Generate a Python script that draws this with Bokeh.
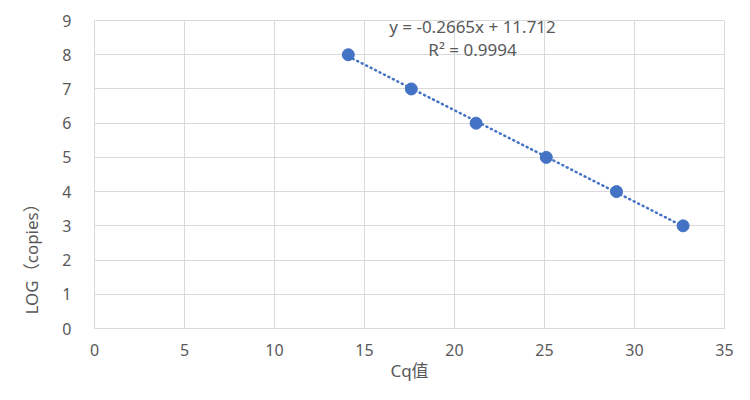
import numpy as np
from bokeh.plotting import figure
from bokeh.models import Label, FixedTicker, Range1d, Title
from bokeh.core.properties import value
from bokeh.embed import file_html
from bokeh.resources import INLINE

# data
cq_values = [14.1, 17.6, 21.2, 25.1, 29.0, 32.7]
log_copies = [8, 7, 6, 5, 4, 3]
x_ticks = [0, 5, 10, 15, 20, 25, 30, 35]
y_ticks = [0, 1, 2, 3, 4, 5, 6, 7, 8, 9]
equation_text = "y = -0.2665x + 11.712"
r2_text = "R² = 0.9994"
x_title = "Cq值"
y_title = "LOG（copies）"

BLUE = "#4472C4"
GRID = "#D9D9D9"
TXT = "#595959"
FONT = "'Noto Sans', 'Noto Sans CJK SC', sans-serif"

p = figure(width=734, height=384, output_backend="svg", toolbar_location=None,
           x_range=Range1d(0, 35), y_range=Range1d(0, 9),
           min_border_left=90, min_border_right=10, min_border_top=20, min_border_bottom=48)
p.background_fill_color = "white"
p.border_fill_color = "white"
p.outline_line_color = GRID

for ax in (p.xaxis[0], p.yaxis[0]):
    ax.axis_line_color = None
    ax.major_tick_line_color = None
    ax.minor_tick_line_color = None
    ax.major_label_text_color = TXT
    ax.major_label_text_font = FONT
    ax.major_label_text_font_size = "16px"
p.xaxis.ticker = FixedTicker(ticks=x_ticks)
p.yaxis.ticker = FixedTicker(ticks=y_ticks)
p.xaxis.major_label_standoff = 9
p.yaxis.major_label_standoff = 17
p.xaxis.axis_label = x_title
p.xaxis.axis_label_standoff = 0
p.xaxis.axis_label_text_font = FONT
p.xaxis.axis_label_text_font_size = "17px"
p.xaxis.axis_label_text_font_style = "normal"
p.xaxis.axis_label_text_color = TXT
p.xgrid.ticker = FixedTicker(ticks=x_ticks)
p.ygrid.ticker = FixedTicker(ticks=y_ticks)
p.grid.grid_line_color = GRID
p.grid.grid_line_width = 1
p.xaxis.axis_line_color = GRID

yt = Title(text=y_title, align="left", offset=14, standoff=34,
           text_font=FONT, text_font_size="17px", text_font_style="normal",
           text_color=TXT)
p.add_layout(yt, "left")

# trendline (linear fit over the data range)
slope, intercept = np.polyfit(cq_values, log_copies, 1)
tx = np.array([min(cq_values), max(cq_values)])
p.line(tx, slope * tx + intercept, line_color=BLUE, line_width=2.5,
       line_dash="1 4", line_cap="round")

p.scatter(cq_values, log_copies, size=12, marker="circle",
          fill_color=BLUE, line_color=BLUE)

p.add_layout(Label(x=21.0, y=8.83, text=equation_text, text_align="center",
                   text_baseline="middle", text_font=FONT, text_font_size="17px",
                   text_color=TXT))
p.add_layout(Label(x=21.0, y=8.15, text=r2_text, text_align="center",
                   text_baseline="middle", text_font=FONT, text_font_size="17px",
                   text_color=TXT))

open("out.html", "w").write(file_html(p, INLINE))
